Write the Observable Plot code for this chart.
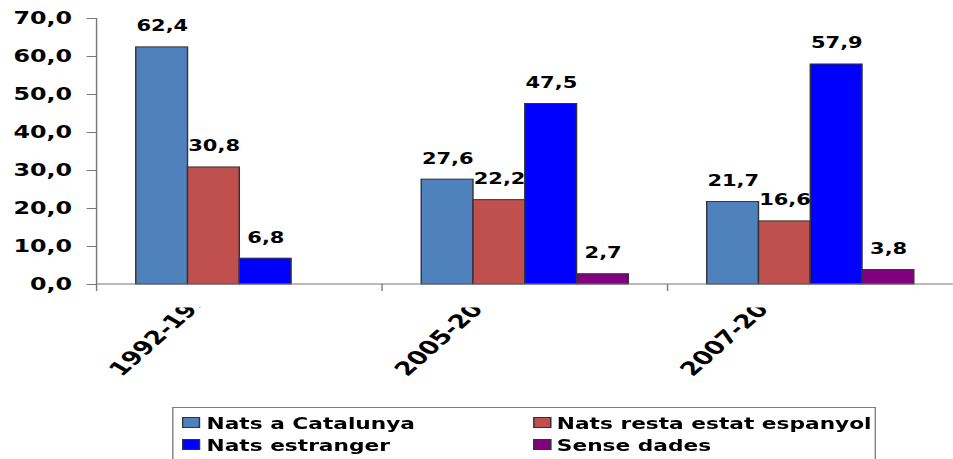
<!DOCTYPE html>
<html><head><meta charset="utf-8">
<script src="https://cdn.jsdelivr.net/npm/d3@7"></script>
<script src="https://cdn.jsdelivr.net/npm/@observablehq/plot@0.6"></script>
<style>
html,body{margin:0;padding:0;background:#fff;overflow:hidden;}
#wrap{position:relative;width:681px;height:459px;transform:scaleX(1.3994);transform-origin:0 0;font-family:"DejaVu Sans",sans-serif;}
#legend{position:absolute;left:123.4px;top:406.7px;width:502.3px;height:70px;border:1px solid #7f7f7f;box-sizing:border-box;background:#fff;}
.item{position:absolute;font-weight:bold;font-size:15.5px;line-height:1;white-space:nowrap;color:#000;}
.sw{position:absolute;width:12.4px;height:11px;box-sizing:border-box;border:1px solid #333;}
</style></head>
<body><div id="wrap"><div id="chart"></div><div id="legend"></div></div>
<script>
const groups = ["1992-199", "2005-200", "2007-200"];
const series = ["Nats a Catalunya", "Nats resta estat espanyol", "Nats estranger", "Sense dades"];
const colors = ["#4F81BD", "#C0504D", "#0000FF", "#800080"];
const natsCatalunya = [62.4, 27.6, 21.7];
const natsResta = [30.8, 22.2, 16.6];
const natsEstranger = [6.8, 47.5, 57.9];
const senseDades = [null, 2.7, 3.8];
const yTicks = [0, 10, 20, 30, 40, 50, 60, 70];

const seriesValues = [natsCatalunya, natsResta, natsEstranger, senseDades];
const data = [];
groups.forEach((g, i) => {
  seriesValues.forEach((arr, j) => {
    if (arr[i] != null) data.push({group: g, series: series[j], value: arr[i]});
  });
});
const fmt = v => (+v).toFixed(1).replace(".", ",");

const chart = Plot.plot({
  width: 681, height: 400,
  marginTop: 18, marginBottom: 116, marginLeft: 69, marginRight: 0,
  style: {fontFamily: "DejaVu Sans", background: "#fff", color: "#000", overflow: "visible"},
  fx: {domain: groups, paddingInner: 0, paddingOuter: 0, label: null},
  x: {domain: series, paddingInner: 0, paddingOuter: 0.75, axis: null},
  y: {domain: [0, 70], label: null},
  color: {domain: series, range: colors},
  marks: [
    Plot.barY(data, {fx: "group", x: "series", y: "value", fill: "series", stroke: "#333", strokeWidth: 1}),
    Plot.text(data, {fx: "group", x: "series", y: "value", text: d => fmt(d.value), dy: -16, lineAnchor: "bottom", fontSize: 15, fontWeight: "bold", fill: "#000"}),
    Plot.axisY({ticks: yTicks, tickFormat: fmt, tickSize: 7, tickPadding: 11, stroke: "#777", fill: "#000", fontSize: 17, fontWeight: "bold", label: null}),
    Plot.axisFx({anchor: "bottom", tickSize: 0, tickPadding: 11, tickRotate: -51, dx: -26, fontSize: 19, fontWeight: "bold", fill: "#000", label: null})
  ]
});
document.getElementById("chart").appendChild(chart);

// axis lines drawn with the plot's own scales
const fxS = chart.scale("fx"), yS = chart.scale("y");
const root = d3.select(chart);
const y0 = yS.apply(0), yTop = yS.apply(70);
const bw = fxS.bandwidth != null ? fxS.bandwidth : (fxS.range[1] - fxS.range[0]) / groups.length;
const ax = root.append("g").attr("stroke", "#777").attr("fill", "none").attr("stroke-width", 1);
const xStart = fxS.apply(groups[0]);
ax.append("line").attr("x1", xStart).attr("x2", fxS.apply(groups[groups.length - 1]) + bw).attr("y1", y0).attr("y2", y0);
ax.append("line").attr("x1", xStart).attr("x2", xStart).attr("y1", yTop).attr("y2", y0);
groups.forEach(g => {
  const gx = fxS.apply(g);
  ax.append("line").attr("x1", gx).attr("x2", gx).attr("y1", y0).attr("y2", y0 + 7);
});
const defs = root.append("defs");
defs.append("clipPath").attr("id", "lblclip").attr("clipPathUnits", "userSpaceOnUse")
  .append("rect").attr("x", -3000).attr("y", 296).attr("width", 6000).attr("height", 500);
root.selectAll('g[aria-label="fx-axis tick label"]').attr("clip-path", "url(#lblclip)");

// legend
const legend = document.getElementById("legend");
const pos = [
  {mx: 6.1, my: 9.6, tx: 23.2, ty: 9},
  {mx: 257, my: 9.6, tx: 273.5, ty: 9},
  {mx: 6.1, my: 31.3, tx: 23.2, ty: 31},
  {mx: 257, my: 31.3, tx: 273.5, ty: 31}
];
series.forEach((s, i) => {
  const sw = document.createElement("div");
  sw.className = "sw";
  sw.style.left = pos[i].mx + "px"; sw.style.top = pos[i].my + "px";
  sw.style.background = colors[i];
  legend.appendChild(sw);
  const t = document.createElement("div");
  t.className = "item";
  t.style.left = pos[i].tx + "px"; t.style.top = pos[i].ty + "px";
  t.textContent = s;
  legend.appendChild(t);
});
</script>
</body></html>
